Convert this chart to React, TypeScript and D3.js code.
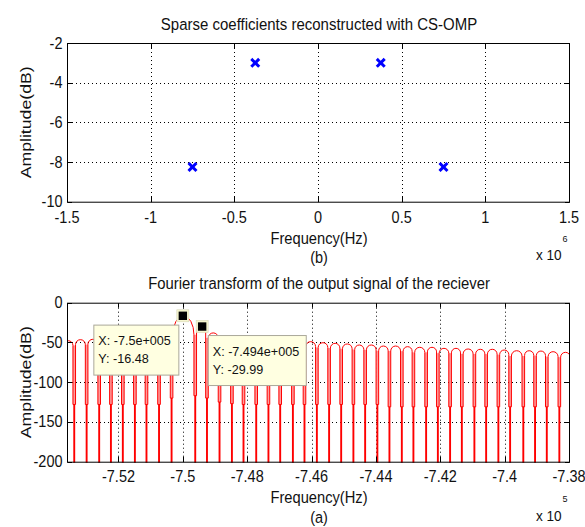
import React from "react";
import * as d3 from "d3";

const W = 585;
const H = 527;
const FONT = "'Liberation Sans', Arial, Helvetica, sans-serif";

// ---- upper panel: sparse coefficients recovered by CS-OMP ----
const sparseFreqHz = [-750000, -375000, 375000, 750000];
const sparseAmpDb = [-8.25, -3.0, -3.0, -8.25];
const topXTicks = [-1.5e6, -1e6, -0.5e6, 0, 0.5e6, 1e6, 1.5e6];
const topYTicks = [-10, -8, -6, -4, -2];

// ---- lower panel: receiver output spectrum ----
// frequencies of the spectral nulls (Hz)
const nullFreqHz = [
  -753750, -753375, -752990, -752600, -752235, -751865, -751490, -751130, -750740, -750350,
  -749615, -749250, -748860, -748475, -748115, -747720, -747340, -746975, -746580, -746220,
  -745835, -745455, -745080, -744700, -744335, -743955, -743580, -743195, -742835, -742440,
  -742075, -741695, -741330, -740940, -740575, -740195, -739830, -739420, -739055, -738690,
  -738300, -737920,
];
// level reached at the bottom of each null notch (dB)
const nullDepthDb = [
  -128, -128, -128, -128, -128, -128, -128, -128, -128, -120,
  -117, -120, -125, -127, -128, -128, -128, -128, -128, -128,
  -128, -128, -128, -128, -128, -128, -131, -131, -131, -131,
  -131, -131, -131, -131, -131, -131, -131, -131, -131, -131,
  -131, -131,
];
// peak level of each lobe between consecutive nulls (dB)
const lobePeakDb = [
  -47.8, -46.5, -46, -45, -44, -43, -41, -38, -31, -16.48,
  -29.99, -38, -43, -44.5, -45.5, -46.5, -47.5, -48, -48.5, -49,
  -50.3, -51.1, -51.9, -53.2, -53.2, -54.5, -54.5, -55.3, -56.1, -56.1,
  -57.4, -57.4, -58.2, -58.6, -58.6, -59.5, -60.4, -60.4, -60.8, -61.6,
  -62.4,
];
const tipFreqHz = [-750000, -749400];
const tipAmpDb = [-16.48, -29.99];
const bottomXTicks = [-752000, -750000, -748000, -746000, -744000, -742000, -740000, -738000];
const bottomYTicks = [-200, -150, -100, -50, 0];

const loc = d3.formatLocale({
  decimal: ".",
  thousands: ",",
  grouping: [3],
  currency: ["", ""],
  minus: "-",
});
const fmtTick = loc.format("~g");
const fmtExp = (v: number) =>
  loc.format(".3~e")(v).replace(/e([+-])(\d+)$/, (_m, s, dgt) => "e" + s + dgt.padStart(3, "0"));
const fmtVal = loc.format(".4~g");

const PL = 67;
const PR = 569;
const TOP1 = 43;
const BOT1 = 201.7;
const TOP2 = 302.7;
const BOT2 = 461.7;

const AX_SIZE = 14.5;
const SY = 1.12;
const NOTCH_HW = 1.3; // half width of each null notch, px

function SText(props: {
  x: number;
  y: number;
  children: React.ReactNode;
  anchor?: string;
  size?: number;
  sy?: number;
  rotate?: boolean;
}) {
  const { x, y, children, anchor = "middle", size = AX_SIZE, sy = SY, rotate = false } = props;
  const tf = `translate(${x},${y}) scale(1,${sy})${rotate ? " rotate(-90)" : ""}`;
  return (
    <text transform={tf} textAnchor={anchor} fontSize={size} fontFamily={FONT} fill="#111">
      {children}
    </text>
  );
}

function Frame(props: {
  x: d3.ScaleLinear<number, number>;
  y: d3.ScaleLinear<number, number>;
  xTicks: number[];
  yTicks: number[];
  top: number;
  bottom: number;
}) {
  const { x, y, xTicks, yTicks, top, bottom } = props;
  const T = 5;
  return (
    <g>
      <rect x={PL + 0.5} y={top + 0.5} width={PR - PL} height={bottom - top} fill="none" stroke="#000" strokeWidth={1} />
      {xTicks.map((t) => {
        const px = Math.round(x(t)) + 0.5;
        return (
          <g key={"xt" + t}>
            <line x1={px} x2={px} y1={bottom + 0.5} y2={bottom - T} stroke="#000" />
            <line x1={px} x2={px} y1={top + 0.5} y2={top + T} stroke="#000" />
          </g>
        );
      })}
      {yTicks.map((t) => {
        const py = Math.round(y(t)) + 0.5;
        return (
          <g key={"yt" + t}>
            <line x1={PL + 0.5} x2={PL + T} y1={py} y2={py} stroke="#000" />
            <line x1={PR + 0.5} x2={PR - T + 1} y1={py} y2={py} stroke="#000" />
          </g>
        );
      })}
    </g>
  );
}

function Grid(props: {
  x: d3.ScaleLinear<number, number>;
  y: d3.ScaleLinear<number, number>;
  xTicks: number[];
  yTicks: number[];
  top: number;
  bottom: number;
}) {
  const { x, y, xTicks, yTicks, top, bottom } = props;
  const inner = (arr: number[], s: d3.ScaleLinear<number, number>, lo: number, hi: number) =>
    arr.filter((t) => s(t) > lo + 1 && s(t) < hi - 1);
  return (
    <g stroke="#000" strokeWidth={1} strokeDasharray="1 3">
      {inner(xTicks, x, PL, PR).map((t) => {
        const px = Math.round(x(t)) + 0.5;
        return <line key={"gx" + t} x1={px} x2={px} y1={top + 1} y2={bottom} />;
      })}
      {inner(yTicks, y, top, bottom).map((t) => {
        const py = Math.round(y(t)) + 0.5;
        return <line key={"gy" + t} x1={PL + 1} x2={PR} y1={py} y2={py} />;
      })}
    </g>
  );
}

// lobe geometry shared by the outline and the notch shading
function lobeGeom(x: d3.ScaleLinear<number, number>, y: d3.ScaleLinear<number, number>, i: number) {
  const xa = x(nullFreqHz[i]) + NOTCH_HW;
  const xb = x(nullFreqHz[i + 1]) - NOTCH_HW;
  const rx = (xb - xa) / 2;
  const ry = rx * (rx > 8 ? 1.8 : 1);
  const yTop = y(lobePeakDb[i]) + ry;
  return { xa, xb, rx, ry, yTop };
}

function spectrumPath(x: d3.ScaleLinear<number, number>, y: d3.ScaleLinear<number, number>) {
  let d = "";
  for (let i = 0; i < lobePeakDb.length; i++) {
    const { xa, xb, rx, ry, yTop } = lobeGeom(x, y, i);
    const yL = y(nullDepthDb[i]);
    const yR = y(nullDepthDb[i + 1]);
    if (i === 0) d += `M${xa - 2 * NOTCH_HW},${yL}L${xa},${yL}`;
    d += `L${xa},${yTop}A${rx},${ry} 0 0 1 ${xb},${yTop}L${xb},${yR}L${xb + 2 * NOTCH_HW},${yR}`;
  }
  return d;
}

function Tip(props: { x: number; y: number; w: number; lines: string[] }) {
  const { x, y, w, lines } = props;
  return (
    <g>
      <rect x={x + 0.5} y={y + 0.5} width={w} height={50} fill="#ffffe1" stroke="#aaa89a" strokeWidth={1} />
      {lines.map((s, i) => (
        <text key={i} x={x + 5} y={y + 20.5 + i * 18} fontSize={12.6} fontFamily={FONT} fill="#111">
          {s}
        </text>
      ))}
    </g>
  );
}

export default function App() {
  const x1 = d3.scaleLinear().domain([-1.5e6, 1.5e6]).range([PL, PR]);
  const y1 = d3.scaleLinear().domain([-10, -2]).range([BOT1, TOP1]);
  const x2 = d3.scaleLinear().domain([-753600, -738000]).range([PL, PR]);
  const y2 = d3.scaleLinear().domain([-200, 0]).range([BOT2, TOP2]);

  const cx = (PL + PR) / 2 + 1;
  const mk = 2.9;

  // shading inside each notch between neighbouring lobes
  const notches = nullFreqHz.map((f, i) => {
    const left = i > 0 ? lobeGeom(x2, y2, i - 1).yTop : y2(nullDepthDb[i]);
    const right = i < lobePeakDb.length ? lobeGeom(x2, y2, i).yTop : y2(nullDepthDb[i]);
    return { x: x2(f), yTop: Math.max(left, right), yBot: y2(nullDepthDb[i]) };
  });

  return (
    <svg
      width={W}
      height={H}
      viewBox={`0 0 ${W} ${H}`}
      style={{ position: "absolute", left: 0, top: 0, background: "#fff" }}
    >
      <rect x={0} y={0} width={W} height={H} fill="#fff" />
      <defs>
        <clipPath id="plot2">
          <rect x={PL + 1} y={TOP2 + 1} width={PR - PL - 1} height={BOT2 - TOP2} />
        </clipPath>
      </defs>

      {/* ---------- upper panel ---------- */}
      <SText x={cx} y={29.5} size={15} sy={1.15}>
        Sparse coefficients reconstructed with CS-OMP
      </SText>
      <Grid x={x1} y={y1} xTicks={topXTicks} yTicks={topYTicks} top={TOP1} bottom={BOT1} />
      <g stroke="#0000ff" strokeWidth={3} strokeLinecap="square">
        {sparseFreqHz.map((f, i) => {
          const px = x1(f);
          const py = y1(sparseAmpDb[i]);
          return (
            <g key={"sp" + i}>
              <line x1={px - mk} y1={py - mk} x2={px + mk} y2={py + mk} />
              <line x1={px - mk} y1={py + mk} x2={px + mk} y2={py - mk} />
            </g>
          );
        })}
      </g>
      <Frame x={x1} y={y1} xTicks={topXTicks} yTicks={topYTicks} top={TOP1} bottom={BOT1} />
      {topXTicks.map((t) => (
        <SText key={"tx" + t} x={x1(t)} y={222.5}>
          {fmtTick(t / 1e6)}
        </SText>
      ))}
      {topYTicks.map((t) => (
        <SText key={"ty" + t} x={PL - 4.5} y={y1(t) + 5.5} anchor="end">
          {fmtTick(t)}
        </SText>
      ))}
      <SText x={30.5} y={(TOP1 + BOT1) / 2} rotate sy={1.22}>
        Amplitude(dB)
      </SText>
      <SText x={cx} y={243.5} size={14.7}>
        Frequency(Hz)
      </SText>
      <SText x={cx} y={262.5}>
        (b)
      </SText>
      <SText x={536} y={259.5} anchor="start" size={13.6}>
        x 10
      </SText>
      <SText x={562.5} y={241.5} anchor="start" size={9} sy={1}>
        6
      </SText>

      {/* ---------- lower panel ---------- */}
      <SText x={cx} y={289.3} size={14.85} sy={1.15}>
        Fourier transform of the output signal of the reciever
      </SText>
      <Grid x={x2} y={y2} xTicks={bottomXTicks} yTicks={bottomYTicks} top={TOP2} bottom={BOT2} />
      <g clipPath="url(#plot2)">
        <g fill="#ff9c9c">
          {notches.map((n, i) => (
            <rect key={"nf" + i} x={n.x - NOTCH_HW} y={n.yTop} width={2 * NOTCH_HW} height={Math.max(0, n.yBot - n.yTop)} />
          ))}
        </g>
        <path d={spectrumPath(x2, y2)} fill="none" stroke="#ff0000" strokeWidth={1} />
        <g stroke="#ff0000" strokeWidth={1.9}>
          {nullFreqHz.map((f, i) => (
            <line key={"nl" + i} x1={x2(f)} x2={x2(f)} y1={y2(nullDepthDb[i])} y2={y2(-200) + 2} />
          ))}
        </g>
      </g>
      <Frame x={x2} y={y2} xTicks={bottomXTicks} yTicks={bottomYTicks} top={TOP2} bottom={BOT2} />
      {bottomXTicks.map((t) => (
        <SText key={"bx" + t} x={x2(t)} y={481.5}>
          {fmtTick(t / 1e5)}
        </SText>
      ))}
      {bottomYTicks.map((t) => (
        <SText key={"by" + t} x={PL - 4.5} y={y2(t) + 5.5} anchor="end">
          {fmtTick(t)}
        </SText>
      ))}
      <SText x={30.5} y={(TOP2 + BOT2) / 2} rotate sy={1.22}>
        Amplitude(dB)
      </SText>
      <SText x={cx} y={503.3} size={14.7}>
        Frequency(Hz)
      </SText>
      <SText x={cx} y={522.5}>
        (a)
      </SText>
      <SText x={536} y={520.5} anchor="start" size={13.6}>
        x 10
      </SText>
      <SText x={562.5} y={501.5} anchor="start" size={9} sy={1}>
        5
      </SText>

      {/* data tips */}
      {tipFreqHz.map((f, i) => {
        const px = x2(f);
        const py = y2(tipAmpDb[i]);
        return (
          <g key={"mk" + i}>
            <rect x={px - 6} y={py - 6} width={12} height={12} fill="#f6f6cf" stroke="#d6d6b4" strokeWidth={0.6} />
            <rect x={px - 4.2} y={py - 4.2} width={8.4} height={8.4} fill="#000" />
          </g>
        );
      })}
      {(() => {
        const p0x = x2(tipFreqHz[0]);
        const p0y = y2(tipAmpDb[0]);
        const p1x = x2(tipFreqHz[1]);
        const p1y = y2(tipAmpDb[1]);
        return (
          <g>
            <Tip
              x={p0x - 89.5}
              y={p0y + 8.8}
              w={85}
              lines={["X: " + fmtExp(tipFreqHz[0]), "Y: " + fmtVal(tipAmpDb[0])]}
            />
            <Tip
              x={p1x + 5.6}
              y={p1y + 8.5}
              w={98}
              lines={["X: " + fmtExp(tipFreqHz[1]), "Y: " + fmtVal(tipAmpDb[1])]}
            />
          </g>
        );
      })()}
    </svg>
  );
}
